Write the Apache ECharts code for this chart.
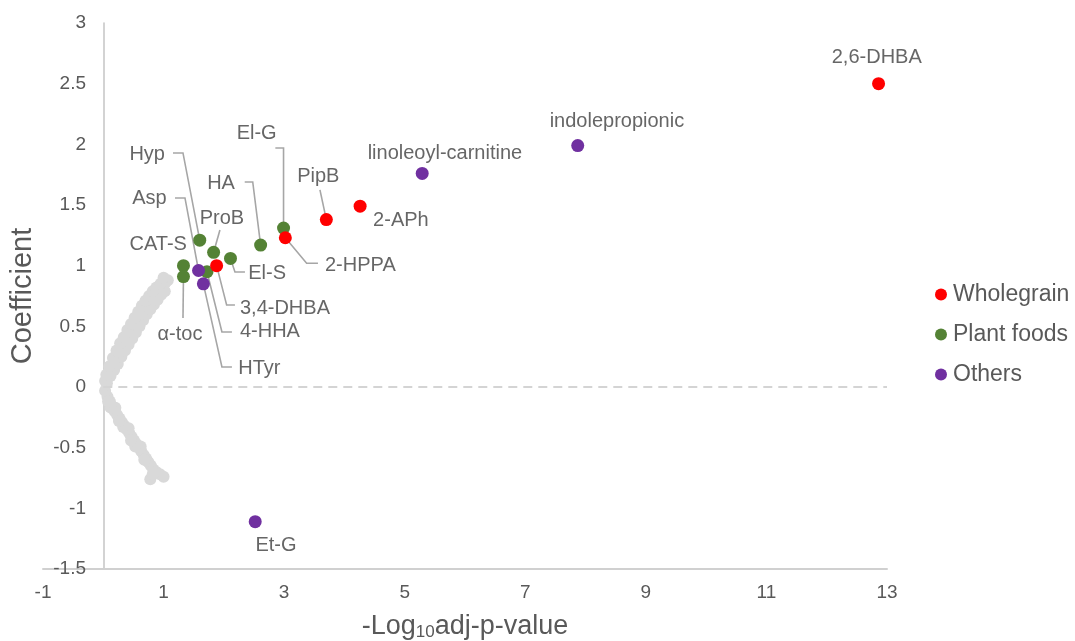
<!DOCTYPE html>
<html><head><meta charset="utf-8">
<script src="https://cdn.jsdelivr.net/npm/echarts@6/dist/echarts.min.js"></script>
<style>html,body{margin:0;padding:0;background:#fff}#c{width:1075px;height:641px}</style>
</head><body><div id="c"></div>
<script>
// ---- data ----
const xTicks = [-1, 1, 3, 5, 7, 9, 11, 13];
const yTicks = [-1.5, -1, -0.5, 0, 0.5, 1, 1.5, 2, 2.5, 3];

const wholegrainNames = ['2,6-DHBA', '2-APh', 'PipB', '2-HPPA', '3,4-DHBA'];
const wholegrainX = [12.86, 4.26, 3.70, 3.02, 1.88];
const wholegrainY = [2.50, 1.49, 1.38, 1.23, 1.00];

const plantNames = ['El-G', 'HA', 'Hyp', 'ProB', 'El-S', 'CAT-S', 'α-toc', '4-HHA'];
const plantX = [2.99, 2.61, 1.60, 1.83, 2.11, 1.33, 1.33, 1.72];
const plantY = [1.31, 1.17, 1.21, 1.11, 1.06, 1.00, 0.91, 0.95];

const othersNames = ['indolepropionic', 'linoleoyl-carnitine', 'Et-G', 'Asp', 'HTyr'];
const othersX = [7.87, 5.29, 2.52, 1.58, 1.66];
const othersY = [1.99, 1.76, -1.11, 0.96, 0.85];

// non-significant metabolites (grey cloud)
const restX = [0.03,0.08,0.13,0.19,0.25,0.31,0.37,0.43,0.49,0.55,0.61,0.67,0.73,0.79,0.85,0.91,0.97,1.03,1.07,
  0.06,0.12,0.18,0.24,0.30,0.36,0.42,0.48,0.54,0.60,0.66,0.72,0.78,0.84,0.90,0.96,1.02,
  0.05,0.10,0.16,0.22,0.28,0.34,0.40,0.46,0.52,0.58,0.64,0.70,0.76,0.82,0.88,0.95,1.00,
  0.03,0.07,0.11,0.15,0.19,0.23,0.27,0.31,0.35,0.39,0.43,0.47,0.51,0.55,0.59,0.63,0.67,0.71,0.75,0.79,0.83,0.88,0.94,1.00,0.78,0.82,
  0.20,0.42,0.62,0.12,0.33,0.53,0.08,0.26,0.46,0.68];
const restY = [0.05,0.11,0.17,0.23,0.29,0.34,0.39,0.44,0.49,0.55,0.60,0.65,0.69,0.73,0.77,0.80,0.83,0.86,0.88,
  0.03,0.09,0.14,0.19,0.25,0.30,0.35,0.40,0.45,0.50,0.55,0.60,0.64,0.68,0.72,0.76,0.79,
  0.10,0.17,0.24,0.30,0.36,0.41,0.47,0.52,0.57,0.62,0.67,0.71,0.75,0.79,0.82,0.85,0.90,
  -0.03,-0.08,-0.12,-0.16,-0.20,-0.23,-0.26,-0.29,-0.32,-0.35,-0.38,-0.41,-0.44,-0.47,-0.50,-0.53,-0.56,-0.59,-0.62,-0.65,-0.68,-0.70,-0.72,-0.74,-0.76,-0.72,
  -0.17,-0.34,-0.49,-0.17,-0.33,-0.49,-0.12,-0.28,-0.44,-0.60];

// ---- annotation layout (label anchor in data units, alignment, leader-line bends) ----
const annot = {
  '2,6-DHBA': {at: [12.83, 2.712], align: 'center'},
  'indolepropionic': {at: [8.52, 2.185], align: 'center'},
  'linoleoyl-carnitine': {at: [5.667, 1.921], align: 'center'},
  '2-APh': {at: [4.937, 1.369], align: 'center'},
  'PipB': {at: [3.566, 1.734], align: 'center', via: [[3.594, 1.624]]},
  'El-G': {at: [2.544, 2.092], align: 'center', via: [[2.99, 1.970], [2.854, 1.970]]},
  'HA': {at: [2.184, 1.679], align: 'right', via: [[2.479, 1.690], [2.346, 1.690]]},
  'Hyp': {at: [1.023, 1.913], align: 'right', via: [[1.322, 1.929], [1.156, 1.929]]},
  'Asp': {at: [1.051, 1.550], align: 'right', via: [[1.355, 1.558], [1.189, 1.558]]},
  'ProB': {at: [1.968, 1.391], align: 'center', via: [[1.935, 1.294]]},
  'CAT-S': {at: [1.388, 1.171], align: 'right'},
  'α-toc': {at: [1.272, 0.429], align: 'center', via: [[1.322, 0.569]]},
  'El-S': {at: [2.405, 0.937], align: 'left', via: [[2.184, 0.948], [2.350, 0.948]]},
  '3,4-DHBA': {at: [2.267, 0.649], align: 'left', via: [[2.046, 0.676], [2.184, 0.676]]},
  '4-HHA': {at: [2.267, 0.456], align: 'left', via: [[1.968, 0.453], [2.134, 0.453]]},
  'HTyr': {at: [2.239, 0.154], align: 'left', via: [[1.968, 0.165], [2.134, 0.165]]},
  '2-HPPA': {at: [3.677, 1.000], align: 'left', via: [[3.373, 1.020], [3.561, 1.020]]},
  'Et-G': {at: [2.864, -1.303], align: 'center'}
};

// ---- build ----
const FONT = '"Liberation Sans", Arial, sans-serif';
function pts(names, xs, ys) { return names.map((n, i) => ({name: n, value: [xs[i], ys[i]]})); }
const allPts = [].concat(pts(wholegrainNames, wholegrainX, wholegrainY), pts(plantNames, plantX, plantY), pts(othersNames, othersX, othersY));
const leaderData = [], labelData = [];
allPts.forEach(p => {
  const a = annot[p.name];
  if (!a) return;
  if (a.via) leaderData.push({coords: [p.value].concat(a.via)});
  labelData.push({name: p.name, value: a.at, label: {align: a.align}});
});

const chart = echarts.init(document.getElementById('c'), null, {renderer: 'canvas'});
chart.setOption({
  animation: false,
  textStyle: {fontFamily: FONT},
  grid: {left: 43, right: 188, top: 23, bottom: 72, outerBoundsMode: 'none'},
  legend: {
    data: ['Wholegrain', 'Plant foods', 'Others'],
    orient: 'vertical', left: 930, top: 278,
    icon: 'circle', itemWidth: 14, itemHeight: 12, itemGap: 17,
    textStyle: {fontSize: 23, color: '#595959', fontFamily: FONT}
  },
  xAxis: {
    type: 'value', min: xTicks[0], max: xTicks[xTicks.length - 1], interval: 2,
    axisLine: {onZero: false, lineStyle: {color: '#d0d0d0', width: 2}},
    axisTick: {show: false}, splitLine: {show: false},
    axisLabel: {color: '#595959', fontSize: 19, margin: 14, fontFamily: FONT},
    name: '-Log{s|10}adj-p-value', nameLocation: 'middle', nameGap: 43,
    nameTextStyle: {fontSize: 27, color: '#595959', fontFamily: FONT,
      rich: {s: {fontSize: 17, color: '#595959', verticalAlign: 'bottom', padding: [12, 0, 0, 0], fontFamily: FONT}}}
  },
  yAxis: {
    type: 'value', min: yTicks[0], max: yTicks[yTicks.length - 1], interval: 0.5,
    axisLine: {show: true, onZero: true, lineStyle: {color: '#c4c4c4', width: 1.5}},
    axisTick: {show: false}, splitLine: {show: false},
    axisLabel: {color: '#595959', fontSize: 19, margin: -43, fontFamily: FONT},
    name: 'Coefficient', nameLocation: 'middle', nameGap: 6, nameRotate: 90,
    nameTextStyle: {fontSize: 29, color: '#595959', fontFamily: FONT}
  },
  series: [
    {
      name: 'Other metabolites', type: 'scatter', symbolSize: 12, silent: true,
      itemStyle: {color: '#d9d9d9', opacity: 1},
      data: restX.map((x, i) => [x, restY[i]]),
      markLine: {
        silent: true, symbol: 'none', label: {show: false},
        lineStyle: {color: '#d4d4d4', type: [9, 6], width: 2},
        data: [[{coord: [0, 0]}, {coord: [xTicks[xTicks.length - 1], 0]}]]
      }
    },
    {
      type: 'lines', coordinateSystem: 'cartesian2d', polyline: true, silent: true,
      lineStyle: {color: '#a6a6a6', width: 1.6, opacity: 1},
      data: leaderData
    },
    {name: 'Plant foods', type: 'scatter', symbolSize: 13, itemStyle: {color: '#548235', opacity: 1}, data: pts(plantNames, plantX, plantY)},
    {name: 'Others', type: 'scatter', symbolSize: 13, itemStyle: {color: '#7030a0', opacity: 1}, data: pts(othersNames, othersX, othersY)},
    {name: 'Wholegrain', type: 'scatter', symbolSize: 13, itemStyle: {color: '#ff0000', opacity: 1}, data: pts(wholegrainNames, wholegrainX, wholegrainY)},
    {
      type: 'scatter', symbolSize: 0, silent: true, z: 5,
      label: {show: true, position: 'inside', formatter: p => p.name, color: '#404040', fontSize: 20, fontFamily: FONT},
      data: labelData
    }
  ]
});
</script></body></html>
